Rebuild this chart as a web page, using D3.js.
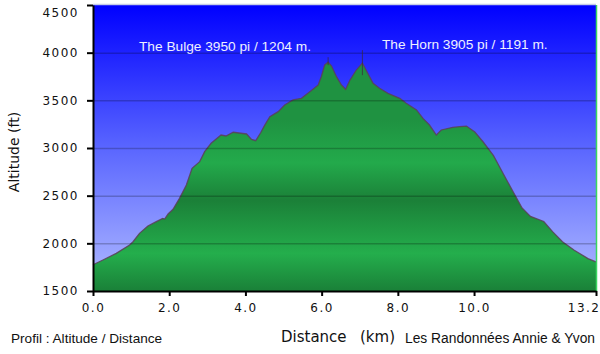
<!DOCTYPE html>
<html><head><meta charset="utf-8">
<script src="https://cdn.jsdelivr.net/npm/d3@7"></script>
<style>html,body{margin:0;padding:0;background:#fff;}svg{display:block;}</style>
</head><body><svg id="c" width="600" height="354"></svg>
<script>
const distKm = [0.00,0.26,0.61,0.96,1.05,1.22,1.44,1.66,1.83,1.88,1.97,2.10,2.27,2.45,2.60,2.80,2.93,3.10,3.36,3.49,3.68,4.03,4.16,4.27,4.40,4.50,4.64,4.86,5.03,5.25,5.47,5.69,5.91,5.99,6.08,6.17,6.26,6.39,6.52,6.63,6.74,6.91,7.07,7.35,7.52,7.74,8.05,8.22,8.49,8.66,8.83,9.01,9.14,9.44,9.62,9.80,10.02,10.24,10.51,10.77,11.04,11.26,11.48,11.83,12.06,12.32,12.63,12.99,13.20];
const altFt  = [1775,1825,1895,1983,2017,2105,2182,2227,2262,2255,2308,2357,2472,2612,2787,2857,2962,3049,3136,3126,3165,3147,3090,3077,3160,3235,3329,3381,3451,3504,3521,3591,3661,3748,3871,3900,3860,3748,3661,3616,3710,3818,3890,3679,3626,3573,3521,3469,3399,3311,3241,3136,3189,3217,3224,3230,3167,3063,2920,2727,2530,2371,2283,2229,2123,2016,1928,1840,1805];
const yTicks = [1500,2000,2500,3000,3500,4000,4500];
const xTicks = [0,2,4,6,8,10,13.2];
const markerKm = [6.17,7.07];
const peakLabels = ["The Bulge 3950 pi / 1204 m.","The Horn 3905 pi / 1191 m."];

const svg = d3.select("#c");
const x = d3.scaleLinear().domain([0,13.2]).range([93,596]);
const y = d3.scaleLinear().domain([1500,4500]).range([291,5]);
const data = distKm.map((d,i)=>({d, a:altFt[i]}));

const defs = svg.append("defs");
const bg = defs.append("linearGradient").attr("id","bg").attr("gradientUnits","userSpaceOnUse")
  .attr("x1",0).attr("x2",0).attr("y1",y(4500)).attr("y2",y(1500));
bg.append("stop").attr("offset",0).attr("stop-color","#0000ff");
bg.append("stop").attr("offset",0.5).attr("stop-color","#5a66ff");
bg.append("stop").attr("offset",1).attr("stop-color","#b2bcff");

const gr = defs.append("linearGradient").attr("id","gr").attr("gradientUnits","userSpaceOnUse")
  .attr("x1",0).attr("x2",0).attr("y1",120).attr("y2",291);
[[0,"#1f9241"],[0.25,"#23aa4b"],[0.47,"#1b8038"],[0.78,"#24ae4c"],[1,"#1a8038"]]
  .forEach(([o,c])=>gr.append("stop").attr("offset",o).attr("stop-color",c));

// background
svg.append("rect").attr("x",x(0)).attr("y",y(4500)).attr("width",x(13.2)-x(0)).attr("height",y(1500)-y(4500))
  .attr("fill","url(#bg)");

// area
const area = d3.area().x(d=>x(d.d)).y0(y(1500)).y1(d=>y(d.a));
svg.append("path").datum(data).attr("d",area).attr("fill","url(#gr)");
const line = d3.line().x(d=>x(d.d)).y(d=>y(d.a));
svg.append("path").datum(data).attr("d",line).attr("fill","none")
  .attr("stroke","#5b3f58").attr("stroke-opacity",0.85).attr("stroke-width",1.3);

// gridlines
svg.append("g").selectAll("line").data(yTicks.filter(t=>t>1500&&t<4500)).join("line")
  .attr("x1",x(0)).attr("x2",x(13.2)).attr("y1",d=>y(d)+0.5).attr("y2",d=>y(d)+0.5)
  .attr("stroke","#000").attr("stroke-opacity",0.22).attr("stroke-width",1.5);

// waypoint markers
const alt = km => { const i = distKm.indexOf(km); return altFt[i]; };
svg.append("g").selectAll("line").data(markerKm).join("line")
  .attr("x1",d=>x(d)).attr("x2",d=>x(d))
  .attr("y1",(d,i)=>y(alt(d))-(i?13:5)).attr("y2",(d,i)=>y(alt(d))+(i?12:3))
  .attr("stroke","#3a2a3a").attr("stroke-opacity",0.7).attr("stroke-width",1);

// borders
svg.append("line").attr("x1",x(0)).attr("x2",x(13.2)).attr("y1",4.5).attr("y2",4.5).attr("stroke","#c6cbe8").attr("stroke-width",1.5);
svg.append("line").attr("x1",596.5).attr("x2",596.5).attr("y1",5).attr("y2",291).attr("stroke","#3ad660").attr("stroke-width",1.5);

// axes
const ya = svg.append("g").attr("transform",`translate(${x(0)},0)`)
  .call(d3.axisLeft(y).tickValues(yTicks).tickFormat(d3.format("d")).tickSize(6).tickPadding(8).tickSizeOuter(0));
const xa = svg.append("g").attr("transform",`translate(0,${y(1500)})`)
  .call(d3.axisBottom(x).tickValues(xTicks).tickFormat(d3.format(".1f")).tickSize(5).tickPadding(7).tickSizeOuter(0));
[ya,xa].forEach(g=>{
  g.select(".domain").attr("stroke","#000").attr("stroke-width",2);
  g.selectAll(".tick line").attr("stroke","#000").attr("stroke-width",2);
  g.selectAll("text").attr("fill","#111").attr("font-family","DejaVu Sans, Verdana, sans-serif")
   .attr("font-size",12).attr("letter-spacing","1.5px");
});
ya.selectAll(".tick").filter(d=>d===4500).select("text").attr("dy","0.95em");
xa.selectAll(".tick").filter(d=>d===13.2).select("text").attr("text-anchor","end").attr("dx","4");

// annotations
const ann = [[139,51],[382,49]];
svg.append("g").selectAll("text").data(peakLabels).join("text")
  .attr("x",(d,i)=>ann[i][0]).attr("y",(d,i)=>ann[i][1])
  .attr("fill","#eef0ff").attr("font-family","Liberation Sans, Arial, sans-serif").attr("font-size",13.7)
  .text(d=>d);

// titles
svg.append("text").attr("transform","translate(19,152) rotate(-90)").attr("text-anchor","middle")
  .attr("font-family","DejaVu Sans, Verdana, sans-serif").attr("font-size",14).attr("fill","#111").text("Altitude (ft)");
svg.append("text").attr("x",281).attr("y",342).attr("font-family","DejaVu Sans, Verdana, sans-serif")
  .attr("font-size",15).attr("fill","#111").text("Distance");
svg.append("text").attr("x",360).attr("y",342).attr("font-family","DejaVu Sans, Verdana, sans-serif")
  .attr("font-size",15).attr("fill","#111").text("(km)");
svg.append("text").attr("x",11).attr("y",343).attr("font-family","Liberation Sans, Arial, sans-serif")
  .attr("font-size",13.6).attr("fill","#111").text("Profil : Altitude / Distance");
svg.append("text").attr("x",595).attr("y",343).attr("text-anchor","end").attr("font-family","Liberation Sans, Arial, sans-serif")
  .attr("font-size",13.8).attr("fill","#111").text("Les Randonnées Annie & Yvon");
</script></body></html>
